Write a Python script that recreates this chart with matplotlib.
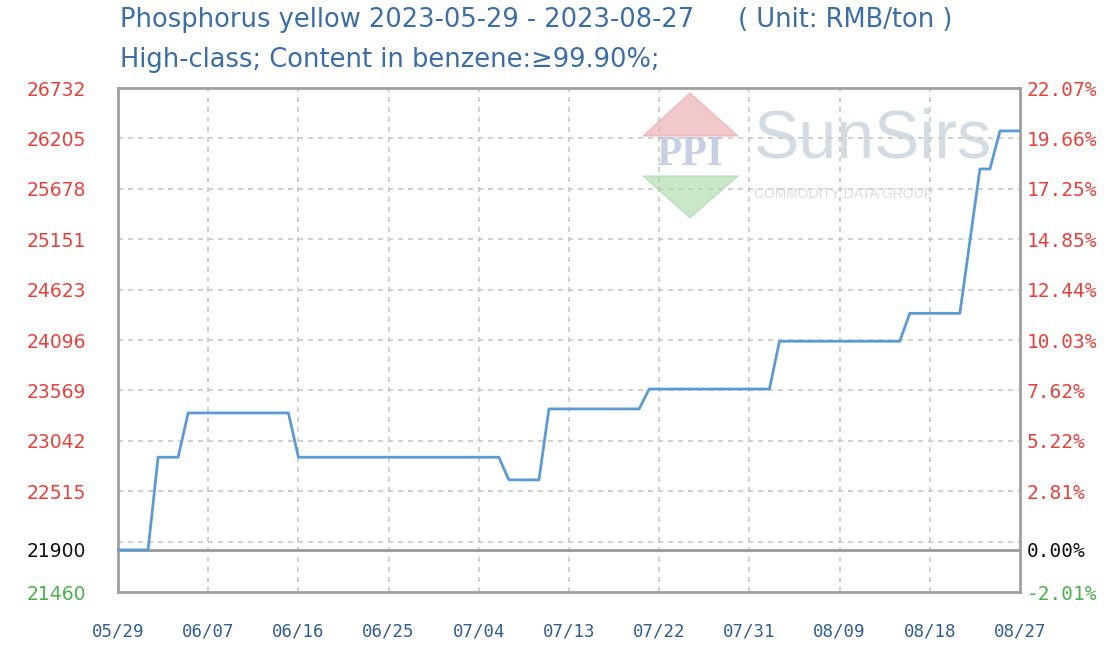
import numpy as np
import pandas as pd
import matplotlib
matplotlib.use("Agg")
from matplotlib import pyplot as plt
import matplotlib.patches as mpatches

# price change points (the line is straight between them)
dates = ["2023-05-29", "2023-06-01", "2023-06-02", "2023-06-04", "2023-06-05",
         "2023-06-15", "2023-06-16", "2023-07-06", "2023-07-07", "2023-07-10",
         "2023-07-11", "2023-07-20", "2023-07-21", "2023-08-02", "2023-08-03",
         "2023-08-15", "2023-08-16", "2023-08-21", "2023-08-22", "2023-08-23",
         "2023-08-24", "2023-08-25", "2023-08-27"]
prices = [21900, 21900, 22870, 22870, 23333,
          23333, 22870, 22870, 22633, 22633,
          23375, 23375, 23583, 23583, 24083,
          24083, 24375, 24375, 25130, 25885,
          25885, 26283, 26283]

base_price = 21900
y_min, y_max = 21460, 26732
left_ticks = [21460, 21900, 22515, 23042, 23569, 24096, 24623, 25151, 25678, 26205, 26732]
right_labels = ["-2.01%", "0.00%", "2.81%", "5.22%", "7.62%", "10.03%",
                "12.44%", "14.85%", "17.25%", "19.66%", "22.07%"]
x_labels = ["05/29", "06/07", "06/16", "06/25", "07/04", "07/13",
            "07/22", "07/31", "08/09", "08/18", "08/27"]

title1 = "Phosphorus yellow 2023-05-29 - 2023-08-27"
title_unit = "( Unit: RMB/ton )"
title2 = "High-class; Content in benzene:\u226599.90%;"

W, H = 1116, 654
fig = plt.figure(figsize=(W / 100, H / 100), dpi=100)
L, R, T, B = 118, 1020, 88, 592
ax = fig.add_axes([L / W, (H - B) / H, (R - L) / W, (B - T) / H])

x = pd.to_datetime(dates)
start, end = x[0], x[-1]

ax.set_xlim(start, end)
ax.set_ylim(y_min, y_max)

# grid
grid_c = "#c8c8c8"
for g in np.linspace(y_min, y_max, 11)[1:-1]:
    ax.axhline(g, color=grid_c, lw=1.2, ls=(0, (3, 3)), zorder=1)
xt = pd.date_range(start, end, freq="9D")
for d in xt[1:-1]:
    ax.axvline(d, color=grid_c, lw=1.2, ls=(0, (3, 3)), zorder=1)
ax.axhline(base_price, color="#9a9a9a", lw=2, zorder=2)

# watermark
def fx(px):
    return px / W

def fy(py):
    return 1 - py / H

fig.patches.append(mpatches.Polygon([(fx(643), fy(136)), (fx(738), fy(136)), (fx(690), fy(93))],
                                    closed=True, transform=fig.transFigure,
                                    color="#e8a6a8", alpha=0.6, zorder=0.5))
fig.patches.append(mpatches.Polygon([(fx(643), fy(176)), (fx(738), fy(176)), (fx(690), fy(218))],
                                    closed=True, transform=fig.transFigure,
                                    color="#a8d8a8", alpha=0.6, zorder=0.5))
fig.text(fx(690), fy(155), "PPI", ha="center", va="center",
         fontsize=30, color="#b8c4dc", alpha=0.8, family="Liberation Serif", fontweight="bold")
fig.text(fx(754), fy(140), "SunSirs", ha="left", va="center",
         fontsize=49, color="#c8d2dc", alpha=0.8, family="Liberation Sans")
fig.text(fx(754), fy(194), "COMMODITY DATA GROUP", ha="left", va="center",
         fontsize=10, color="#d8dde2", family="Liberation Sans")

ax.plot(x, prices, color="#5b9bd5", lw=2, zorder=3)

for s in ax.spines.values():
    s.set_color("#a0a0a0")
    s.set_linewidth(2)
ax.set_facecolor("none")

# left axis
ax.set_yticks(left_ticks)
ax.set_yticklabels([str(v) for v in left_ticks])
ax.tick_params(axis="y", length=0, pad=23, labelsize=13.5)
for lab, v in zip(ax.get_yticklabels(), left_ticks):
    lab.set_color("#e8413c" if v > base_price else ("#111111" if v == base_price else "#4cb04c"))

# right axis
ax2 = ax.twinx()
ax2.set_ylim(y_min, y_max)
ax2.set_yticks(left_ticks)
ax2.set_yticklabels(right_labels, family="DejaVu Sans Mono")
ax2.tick_params(axis="y", length=0, pad=5, labelsize=14)
for lab, v in zip(ax2.get_yticklabels(), left_ticks):
    lab.set_color("#e8413c" if v > base_price else ("#111111" if v == base_price else "#4cb04c"))
for s in ax2.spines.values():
    s.set_visible(False)

# x axis
ax.set_xticks(xt)
ax.set_xticklabels(x_labels, family="DejaVu Sans Mono")
ax.tick_params(axis="x", length=0, pad=22, labelsize=12.5, labelcolor="#2f5f8f")

# titles
fig.text(fx(120), fy(20), title1, ha="left", va="center", fontsize=18.5, color="#3a6ea5")
fig.text(fx(738), fy(20), title_unit, ha="left", va="center", fontsize=18.5, color="#3a6ea5")
fig.text(fx(120), fy(60), title2, ha="left", va="center", fontsize=18.5, color="#3a6ea5")

fig.savefig("out.png", dpi=100)
